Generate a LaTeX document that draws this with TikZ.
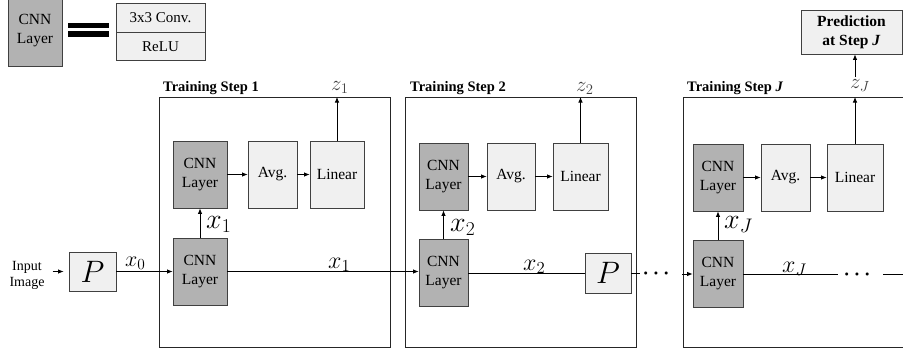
\RequirePackage{fix-cm}
\documentclass[tikz,border=0pt]{standalone}
\usepackage[no-math]{fontspec}
\setmainfont{Liberation Serif}
\usetikzlibrary{arrows.meta}
\begin{document}
\begin{tikzpicture}[x=1pt,y=-1pt,
  box/.style={draw=black!75, line width=0.8pt, align=center, inner sep=1pt,
    font=\fontsize{15.5}{19}\selectfont},
  cnn/.style={box, fill=black!30},
  light/.style={box, fill=black!6},
  stepbox/.style={draw=black!85, line width=0.8pt, inner sep=0pt, anchor=north west, minimum height=250pt},
  arr/.style={-{Latex[length=5.5pt,width=4.5pt]}, line width=0.8pt},
  ln/.style={line width=0.8pt},
  ttl/.style={anchor=base west, inner sep=0pt, font=\bfseries\fontsize{14.5}{16}\selectfont},
  zlbl/.style={anchor=base west, inner sep=0pt, text=black!75, font=\fontsize{21}{21}\selectfont},
  xlbl/.style={anchor=base west, inner sep=0pt, font=\fontsize{24}{24}\selectfont},
  xvlbl/.style={anchor=base west, inner sep=0pt, font=\fontsize{28}{28}\selectfont},
  plbl/.style={light, font=\fontsize{31}{31}\selectfont},
  dotlbl/.style={anchor=base, inner sep=0pt, font=\fontsize{20}{20}\selectfont\boldmath}
]
\useasboundingbox (0,0) rectangle (903,356);
\clip (0,0) rectangle (903,356);

% legend
\node[cnn, minimum width=54pt, minimum height=70pt] (lcnn) at (35,31) {CNN\\Layer};
\fill (68,23) rectangle (109,28);
\fill (68,31) rectangle (109,37);
\node[light, font=\fontsize{15}{17}\selectfont, minimum width=89pt, minimum height=29pt] (conv) at (160.5,17.5) {3x3 Conv.};
\node[light, font=\fontsize{15}{17}\selectfont, minimum width=89pt, minimum height=28pt, anchor=north] (relu) at (conv.south) {ReLU};

% training step boxes
\node[stepbox, minimum width=231pt] (s1) at (159,97) {};
\node[stepbox, minimum width=231pt] (s2) at (405,97) {};
\node[stepbox, minimum width=240pt] (sJ) at (683,97) {};

\node[ttl] (t1) at (163,91) {Training Step 1};
\node[ttl] (t2) at (410,91) {Training Step 2};
\node[ttl] (tJ) at (687,91) {Training Step \textit{J}};

% input
\node[align=center, inner sep=2pt, font=\fontsize{14}{16}\selectfont] (inp) at (27,275) {Input\\Image};
\node[plbl, minimum width=47pt, minimum height=39pt] (p0) at (92.5,271.5) {$P$};
\node[xlbl, font=\fontsize{22}{22}\selectfont] (lx0) at (125,266) {$x_0$};

% step 1
\node[cnn, minimum width=54pt, minimum height=67pt] (c1t) at (200,174.5) {CNN\\Layer};
\node[light, minimum width=49pt, minimum height=67pt] (a1) at (272.5,174.5) {Avg.};
\node[light, minimum width=54pt, minimum height=67pt] (l1) at (337,174.5) {Linear};
\node[cnn, minimum width=54pt, minimum height=67pt] (c1b) at (200,271.5) {CNN\\Layer};
\node[zlbl] (z1) at (331,90) {$z_1$};
\node[xvlbl] (vx1) at (206,228) {$x_1$};
\node[xlbl] (hx1) at (328,268) {$x_1$};

% step 2
\node[cnn, minimum width=49pt, minimum height=67pt] (c2t) at (443.5,176.5) {CNN\\Layer};
\node[light, minimum width=48pt, minimum height=67pt] (a2) at (511,176.5) {Avg.};
\node[light, minimum width=55pt, minimum height=67pt] (l2) at (580.5,176.5) {Linear};
\node[cnn, minimum width=49pt, minimum height=67pt] (c2b) at (443.5,273) {CNN\\Layer};
\node[plbl, minimum width=46pt, minimum height=40pt] (p2) at (608,273) {$P$};
\node[zlbl] (z2) at (576,91) {$z_2$};
\node[xvlbl] (vx2) at (450,231) {$x_2$};
\node[xlbl] (hx2) at (523,270) {$x_2$};

% step J
\node[cnn, minimum width=50pt, minimum height=67pt] (cJt) at (718,177.5) {CNN\\Layer};
\node[light, minimum width=49pt, minimum height=67pt] (aJ) at (785.5,177.5) {Avg.};
\node[light, minimum width=56pt, minimum height=67pt] (lJ) at (855,177.5) {Linear};
\node[cnn, minimum width=50pt, minimum height=67pt] (cJb) at (718,274) {CNN\\Layer};
\node[zlbl] (zJ) at (850,88) {$z_J$};
\node[xvlbl] (vxJ) at (724,228) {$x_J$};
\node[xlbl] (hxJ) at (782,272) {$x_J$};
\node[light, font=\bfseries\fontsize{15.5}{19}\selectfont, minimum width=101pt, minimum height=44pt] (pred) at (851.5,32) {Prediction\\at Step \textit{J}};

% dots
\node[dotlbl] (d1) at (656,278) {$\cdots$};
\node[dotlbl] (d2) at (857,279) {$\cdots$};

% coordinates for free ends
\coordinate (st2) at (640,273);
\coordinate (stJ) at (682,274);
\coordinate (eJ) at (838,274);
\coordinate (fJ) at (883,274);
\coordinate (fJe) at (903,274);
\coordinate (zJtop) at (855,77);

% connectors
\draw[arr, shorten <=6pt, shorten >=5pt] (p0.west -| inp.east) -- (p0.west);
\draw[arr] (p0.east) -- (c1b.west);
\draw[arr] (c1b.north) -- (c1t.south);
\draw[arr] (c1t) -- (a1);
\draw[arr] (a1) -- (l1);
\draw[arr] (l1.north) -- (l1.north |- s1.north);
\draw[arr] (c1b.east) -- (c1b.east -| c2b.west);

\draw[arr] (c2b.north) -- (c2t.south);
\draw[arr] (c2t) -- (a2);
\draw[arr] (a2) -- (l2);
\draw[arr] (l2.north) -- (l2.north |- s2.north);
\draw[ln] (c2b.east) -- (p2.west);
\draw[ln] (p2.east) -- (st2);

\draw[arr] (stJ) -- (cJb.west);
\draw[arr] (cJb.north) -- (cJt.south);
\draw[arr] (cJt) -- (aJ);
\draw[arr] (aJ) -- (lJ);
\draw[arr] (lJ.north) -- (lJ.north |- sJ.north);
\draw[arr] (zJtop) -- (zJtop |- pred.south);
\draw[ln] (cJb.east) -- (eJ);
\draw[ln] (fJ) -- (fJe);
\end{tikzpicture}
\end{document}
